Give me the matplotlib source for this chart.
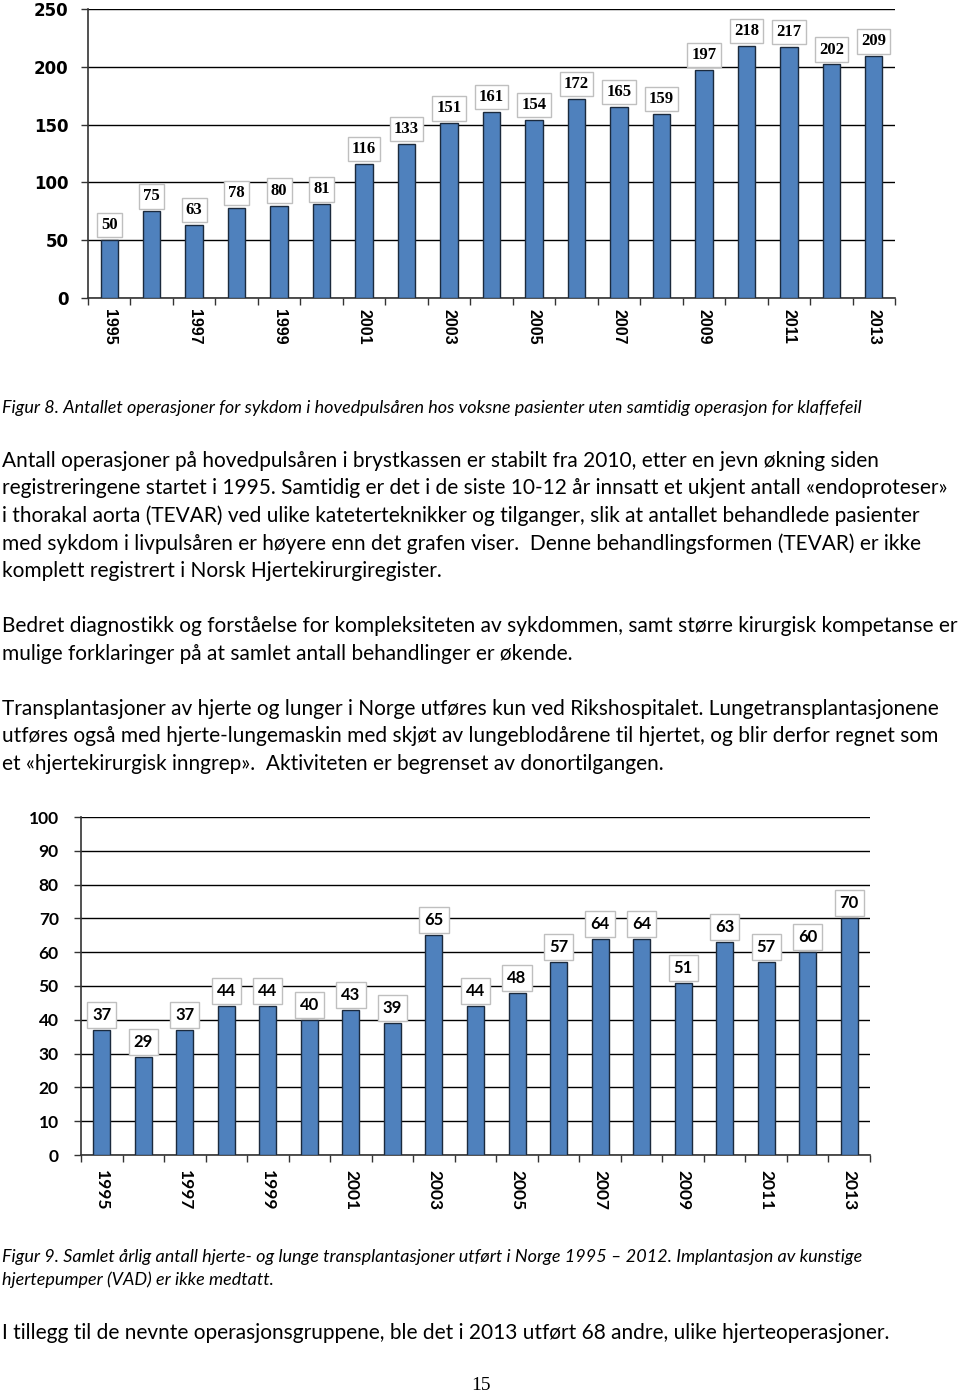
import matplotlib
matplotlib.use("Agg")
import matplotlib.pyplot as plt
import numpy as np

years = list(range(1995, 2014))
aorta_ops = [50, 75, 63, 78, 80, 81, 116, 133, 151, 161, 154, 172, 165, 159, 197, 218, 217, 202, 209]
transplants = [37, 29, 37, 44, 44, 40, 43, 39, 65, 44, 48, 57, 64, 64, 51, 63, 57, 60, 70]

caption8 = "Figur 8. Antallet operasjoner for sykdom i hovedpulsåren hos voksne pasienter uten samtidig operasjon for klaffefeil"
para1 = [
    "Antall operasjoner på hovedpulsåren i brystkassen er stabilt fra 2010, etter en jevn økning siden",
    "registreringene startet i 1995. Samtidig er det i de siste 10-12 år innsatt et ukjent antall «endoproteser»",
    "i thorakal aorta (TEVAR) ved ulike kateterteknikker og tilganger, slik at antallet behandlede pasienter",
    "med sykdom i livpulsåren er høyere enn det grafen viser.  Denne behandlingsformen (TEVAR) er ikke",
    "komplett registrert i Norsk Hjertekirurgiregister.",
]
para2 = [
    "Bedret diagnostikk og forståelse for kompleksiteten av sykdommen, samt større kirurgisk kompetanse er",
    "mulige forklaringer på at samlet antall behandlinger er økende.",
]
para3 = [
    "Transplantasjoner av hjerte og lunger i Norge utføres kun ved Rikshospitalet. Lungetransplantasjonene",
    "utføres også med hjerte-lungemaskin med skjøt av lungeblodårene til hjertet, og blir derfor regnet som",
    "et «hjertekirurgisk inngrep».  Aktiviteten er begrenset av donortilgangen.",
]
caption9 = [
    "Figur 9. Samlet årlig antall hjerte- og lunge transplantasjoner utført i Norge 1995 – 2012. Implantasjon av kunstige",
    "hjertepumper (VAD) er ikke medtatt.",
]
last_line = "I tillegg til de nevnte operasjonsgruppene, ble det i 2013 utført 68 andre, ulike hjerteoperasjoner."

W, H = 960, 1397
fig = plt.figure(figsize=(W / 100, H / 100), dpi=100)
fig.patch.set_facecolor("white")

BAR = "#4F81BD"
EDGE = "#1b2a3d"


def px_axes(x0, x1, y_top, y_bot):
    return fig.add_axes([x0 / W, 1 - y_bot / H, (x1 - x0) / W, (y_bot - y_top) / H])


def bar_chart(ax, values, ymax, ystep, ytick_font, xtick_font, lab_font, lab_size,
              ytick_size, xtick_size, ypad, xpad, lab_pad):
    x = np.arange(len(years))
    ax.bar(x, values, width=0.41, color=BAR, edgecolor=EDGE, linewidth=1.0, zorder=3)
    ax.set_xlim(-0.5, len(years) - 0.5)
    ax.set_ylim(0, ymax)
    ax.set_yticks(np.arange(0, ymax + 1, ystep))
    ax.yaxis.grid(True, color="black", linewidth=1.0, zorder=0)
    ax.set_axisbelow(True)
    for s in ["top", "right"]:
        ax.spines[s].set_visible(False)
    for s in ["left", "bottom"]:
        ax.spines[s].set_color("#333333")
        ax.spines[s].set_linewidth(1.2)
    # ticks at category boundaries, labels for odd years only
    ax.set_xticks(np.arange(-0.5, len(years) + 0.5, 1))
    ax.set_xticklabels([])
    ax.set_xticks(x[::2], minor=True)
    ax.set_xticklabels([str(y) for y in years[::2]], minor=True, rotation=-90,
                       fontfamily=xtick_font, fontweight="bold", fontsize=xtick_size)
    ax.tick_params(axis="x", which="major", length=5, width=1, color="#333333", direction="out")
    ax.tick_params(axis="x", which="minor", length=0, pad=xpad)
    ax.tick_params(axis="y", length=5, width=1, color="#333333", pad=ypad)
    for t in ax.get_yticklabels():
        t.set_fontfamily(ytick_font)
        t.set_fontweight("bold")
        t.set_fontsize(ytick_size)
    for xi, v in zip(x, values):
        ax.annotate(str(v), (xi, v), xytext=(0, 5), textcoords="offset points",
                    ha="center", va="bottom", fontfamily=lab_font, fontweight="bold",
                    fontsize=lab_size, zorder=5,
                    bbox=dict(boxstyle="square,pad=%.2f" % lab_pad, facecolor="white",
                              edgecolor="#BFBFBF", linewidth=1.0))


ax1 = px_axes(88, 895, 9, 298)
bar_chart(ax1, aorta_ops, 250, 50, "DejaVu Sans", "Liberation Sans", "Liberation Serif",
          12, 12, 11.5, 9, 8, 0.25)

ax2 = px_axes(81, 870, 817, 1155)
bar_chart(ax2, transplants, 100, 10, "Lato", "Lato", "Lato", 12, 12.5, 12.5, 11, 11, 0.3)

BODY = 15
CAP = 13
fig.text(2 / W, 1 - 408 / H, caption8, fontfamily="Lato", style="italic", fontsize=CAP, va="center")
for i, line in enumerate(para1):
    fig.text(2 / W, 1 - (461 + 27.5 * i) / H, line, fontfamily="Lato", fontsize=BODY, va="center")
for i, line in enumerate(para2):
    fig.text(2 / W, 1 - (626 + 27.5 * i) / H, line, fontfamily="Lato", fontsize=BODY, va="center")
for i, line in enumerate(para3):
    fig.text(2 / W, 1 - (709 + 27.5 * i) / H, line, fontfamily="Lato", fontsize=BODY, va="center")
for i, line in enumerate(caption9):
    fig.text(2 / W, 1 - (1257 + 23 * i) / H, line, fontfamily="Lato", style="italic", fontsize=CAP, va="center")
fig.text(2 / W, 1 - 1333 / H, last_line, fontfamily="Lato", fontsize=BODY, va="center")
fig.text(481 / W, 1 - 1386 / H, "15", fontfamily="Liberation Serif", fontsize=14, ha="center", va="center")

fig.savefig("out.png", dpi=100, facecolor="white")
